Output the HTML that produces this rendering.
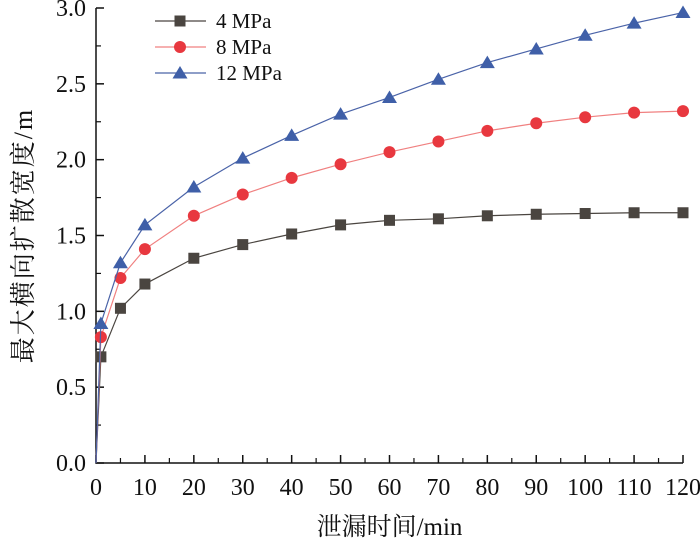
<!DOCTYPE html>
<html><head><meta charset="utf-8"><style>
html,body{margin:0;padding:0;background:#fff;}
svg text{font-family:"Liberation Serif","Noto Serif CJK SC",serif;fill:#111;}
</style></head><body>
<svg id="chart" width="700" height="541" xmlns="http://www.w3.org/2000/svg"></svg>
<script>
const xVals=[0,1,5,10,20,30,40,50,60,70,80,90,100,110,120];
const s4=[0,0.70,1.02,1.18,1.35,1.44,1.51,1.57,1.60,1.61,1.63,1.64,1.645,1.65,1.65];
const s8=[0,0.83,1.22,1.41,1.63,1.77,1.88,1.97,2.05,2.12,2.19,2.24,2.28,2.31,2.32];
const s12=[0,0.92,1.32,1.57,1.82,2.01,2.16,2.30,2.41,2.53,2.64,2.73,2.82,2.90,2.97];
const xTicks=[0,10,20,30,40,50,60,70,80,90,100,110,120];
const yTicks=[0,0.5,1.0,1.5,2.0,2.5,3.0];
const names=["4 MPa","8 MPa","12 MPa"];

const svg=document.getElementById('chart');
const NS='http://www.w3.org/2000/svg';
const X0=96,X1=683,Y0=463,Y1=8;
const xs=v=>X0+(v/120)*(X1-X0);
const ys=v=>Y0-(v/3)*(Y0-Y1);
function mk(t,a,p){const e=document.createElementNS(NS,t);for(const k in a)e.setAttribute(k,a[k]);(p||svg).appendChild(e);return e;}

const axes=mk('g',{});


mk('path',{d:`M${X0},${Y1} V${Y0} H${X1}`,stroke:'#111','stroke-width':1.5,fill:'none'},axes);
yTicks.forEach(v=>{
  const y=ys(v);
  mk('line',{x1:X0,x2:X0+8,y1:y,y2:y,stroke:'#111','stroke-width':1.5},axes);
  const t=mk('text',{x:X0-10,y:y+8,'text-anchor':'end','font-size':24},axes);
  
  
  t.textContent=v.toFixed(1);
});
for(let v=0.25;v<3;v+=0.5){const y=ys(v);mk('line',{x1:X0,x2:X0+5,y1:y,y2:y,stroke:'#111','stroke-width':1.2},axes);}
xTicks.forEach(v=>{
  const x=xs(v);
  mk('line',{x1:x,x2:x,y1:Y0,y2:Y0-8,stroke:'#111','stroke-width':1.5},axes);
  const t=mk('text',{x:x,y:Y0+32,'text-anchor':'middle','font-size':24},axes);
  
  
  t.textContent=v;
});
for(let v=5;v<120;v+=10){const x=xs(v);mk('line',{x1:x,x2:x,y1:Y0,y2:Y0-5,stroke:'#111','stroke-width':1.2},axes);}

const xt=mk('text',{x:(X0+X1)/2,y:535,'text-anchor':'middle','font-size':25});


xt.textContent='泄漏时间/min';
const yt=mk('text',{x:0,y:0,'text-anchor':'middle','font-size':26,'letter-spacing':'2',transform:`translate(32,${(Y0+Y1)/2}) rotate(-90)`});


yt.textContent='最大横向扩散宽度/m';

function marker(shape,x,y,fill,g){
  if(shape==='sq')mk('rect',{x:x-5.5,y:y-5.5,width:11,height:11,fill:fill},g);
  else if(shape==='ci')mk('circle',{cx:x,cy:y,r:6,fill:fill},g);
  else mk('polygon',{points:`${x},${y-7} ${x-7.5},${y+5.5} ${x+7.5},${y+5.5}`,fill:fill},g);
}
const series=[[s4,'#4a4540','#4a4540','sq','series-4mpa'],[s8,'#f08080','#e8383f','ci','series-8mpa'],[s12,'#4a63a8','#3f5fa8','tr','series-12mpa']];
series.forEach(([d,lc,mc,sh,nm])=>{
  const g=mk('g',{});
  
  
  mk('polyline',{points:d.map((v,i)=>xs(xVals[i])+','+ys(v)).join(' '),fill:'none',stroke:lc,'stroke-width':1.2},g);
  d.forEach((v,i)=>{if(i>0)marker(sh,xs(xVals[i]),ys(v),mc,g);});
});

const lg=mk('g',{});


series.forEach(([d,lc,mc,sh],i)=>{
  const y=21+i*26;
  const e=mk('g',{},lg);
  
  
  mk('line',{x1:155,x2:206,y1:y,y2:y,stroke:lc,'stroke-width':1.2},e);
  marker(sh,180,y,mc,e);
  const t=mk('text',{x:216,y:y+7,'font-size':21},e);
  t.textContent=names[i];
});
</script>
</body></html>
